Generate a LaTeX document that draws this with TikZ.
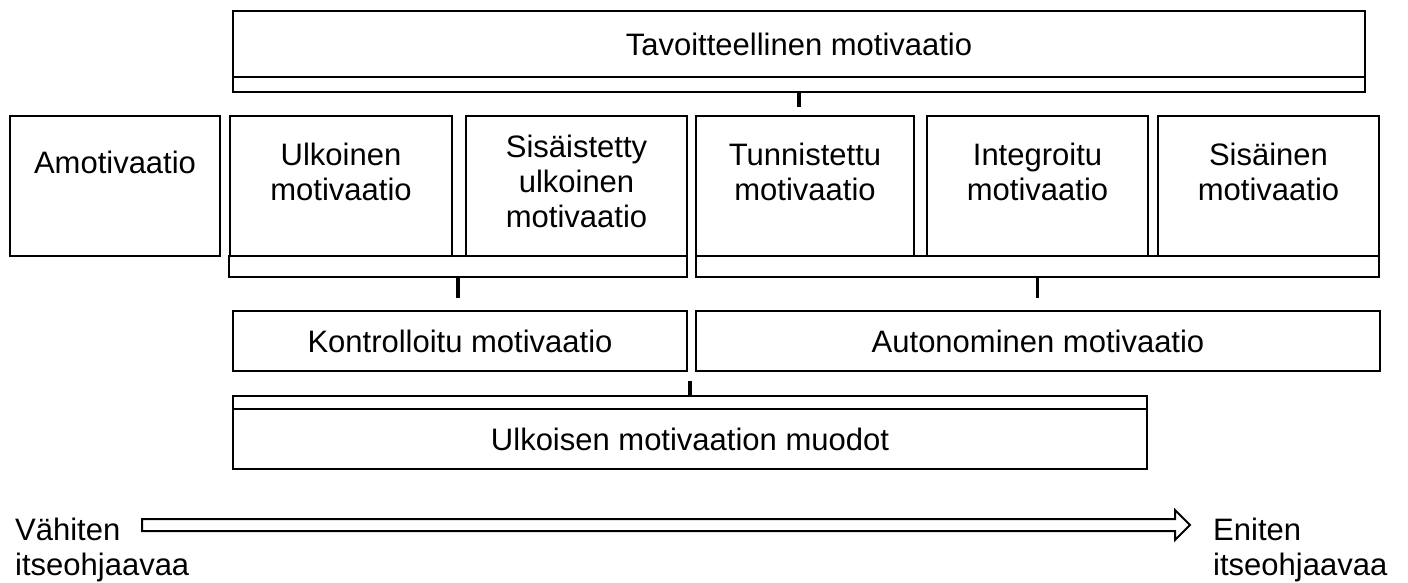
\documentclass[tikz,border=0pt]{standalone}
\usepackage{fontspec}
\setmainfont{Liberation Sans}
\begin{document}
\begin{tikzpicture}[x=1pt,y=-1pt,
    laatikko/.style={draw,line width=2.5pt,inner sep=0pt},
    teksti/.style={inner sep=0pt,align=center,font=\fontsize{31}{35}\selectfont},
    tikku/.style={line width=3.5pt}]
  \useasboundingbox (0,0) rectangle (1408,583);

  % ylin taso
  \node[laatikko,teksti,minimum width=1132,minimum height=66] (tavo) at (799,44) {Tavoitteellinen motivaatio};
  \node[laatikko,minimum width=1132,minimum height=15] (tavopalkki) at (799,84.5) {};
  \draw[tikku] (tavopalkki.south) -- ++(0,14);

  % motivaation lajit
  \node[laatikko,minimum width=210,minimum height=140] (amo) at (115,186) {};
  \node[laatikko,minimum width=222,minimum height=140] (ulk) at (341,186) {};
  \node[laatikko,minimum width=221,minimum height=140] (sis) at (576.5,186) {};
  \node[laatikko,minimum width=218,minimum height=140] (tun) at (805,186) {};
  \node[laatikko,minimum width=221,minimum height=140] (int) at (1037.5,186) {};
  \node[laatikko,minimum width=221,minimum height=140] (sisa) at (1268.5,186) {};

  \node[teksti,anchor=north] (amot) at (amo.north |- 0,150.5) {Amotivaatio};
  \node[teksti,anchor=north] (ulkt) at (ulk.north |- 0,142.5) {Ulkoinen\\motivaatio};
  \node[teksti,anchor=north] (sist) at (sis.north |- 0,134.5) {Sisäistetty\\ulkoinen\\motivaatio};
  \node[teksti,anchor=north] (tunt) at (tun.north |- 0,142.5) {Tunnistettu\\motivaatio};
  \node[teksti,anchor=north] (intt) at (int.north |- 0,142.5) {Integroitu\\motivaatio};
  \node[teksti,anchor=north] (sisat) at (sisa.north |- 0,142.5) {Sisäinen\\motivaatio};

  % kontrolloitu ja autonominen
  \node[laatikko,minimum width=458,minimum height=21] (konpalkki) at (458,266.5) {};
  \node[laatikko,minimum width=683,minimum height=21] (autpalkki) at (1037.5,266.5) {};
  \draw[tikku] (konpalkki.south) -- ++(0,20);
  \draw[tikku] (autpalkki.south) -- ++(0,20);

  \node[laatikko,teksti,minimum width=454,minimum height=60] (kon) at (460,341) {Kontrolloitu motivaatio};
  \node[laatikko,teksti,minimum width=684,minimum height=60] (aut) at (1038,341) {Autonominen motivaatio};

  % ulkoisen motivaation muodot
  \node[laatikko,minimum width=914,minimum height=13] (ulkpalkki) at (690,402.5) {};
  \draw[tikku] (ulkpalkki.north) -- ++(0,-14);
  \node[laatikko,teksti,minimum width=914,minimum height=60] (muodot) at (690,439) {Ulkoisen motivaation muodot};

  % itseohjautuvuuden akseli
  \node[teksti,align=left,anchor=north west] (vah) at (15,517.5) {Vähiten\\itseohjaavaa};
  \node[teksti,align=left,anchor=north west] (eni) at (1213,517.5) {Eniten\\itseohjaavaa};
  \draw[line width=2pt] (142,519) -- (1175,519) -- (1175,510) -- (1190,525)
    -- (1175,540) -- (1175,531) -- (142,531) -- cycle;
\end{tikzpicture}
\end{document}
